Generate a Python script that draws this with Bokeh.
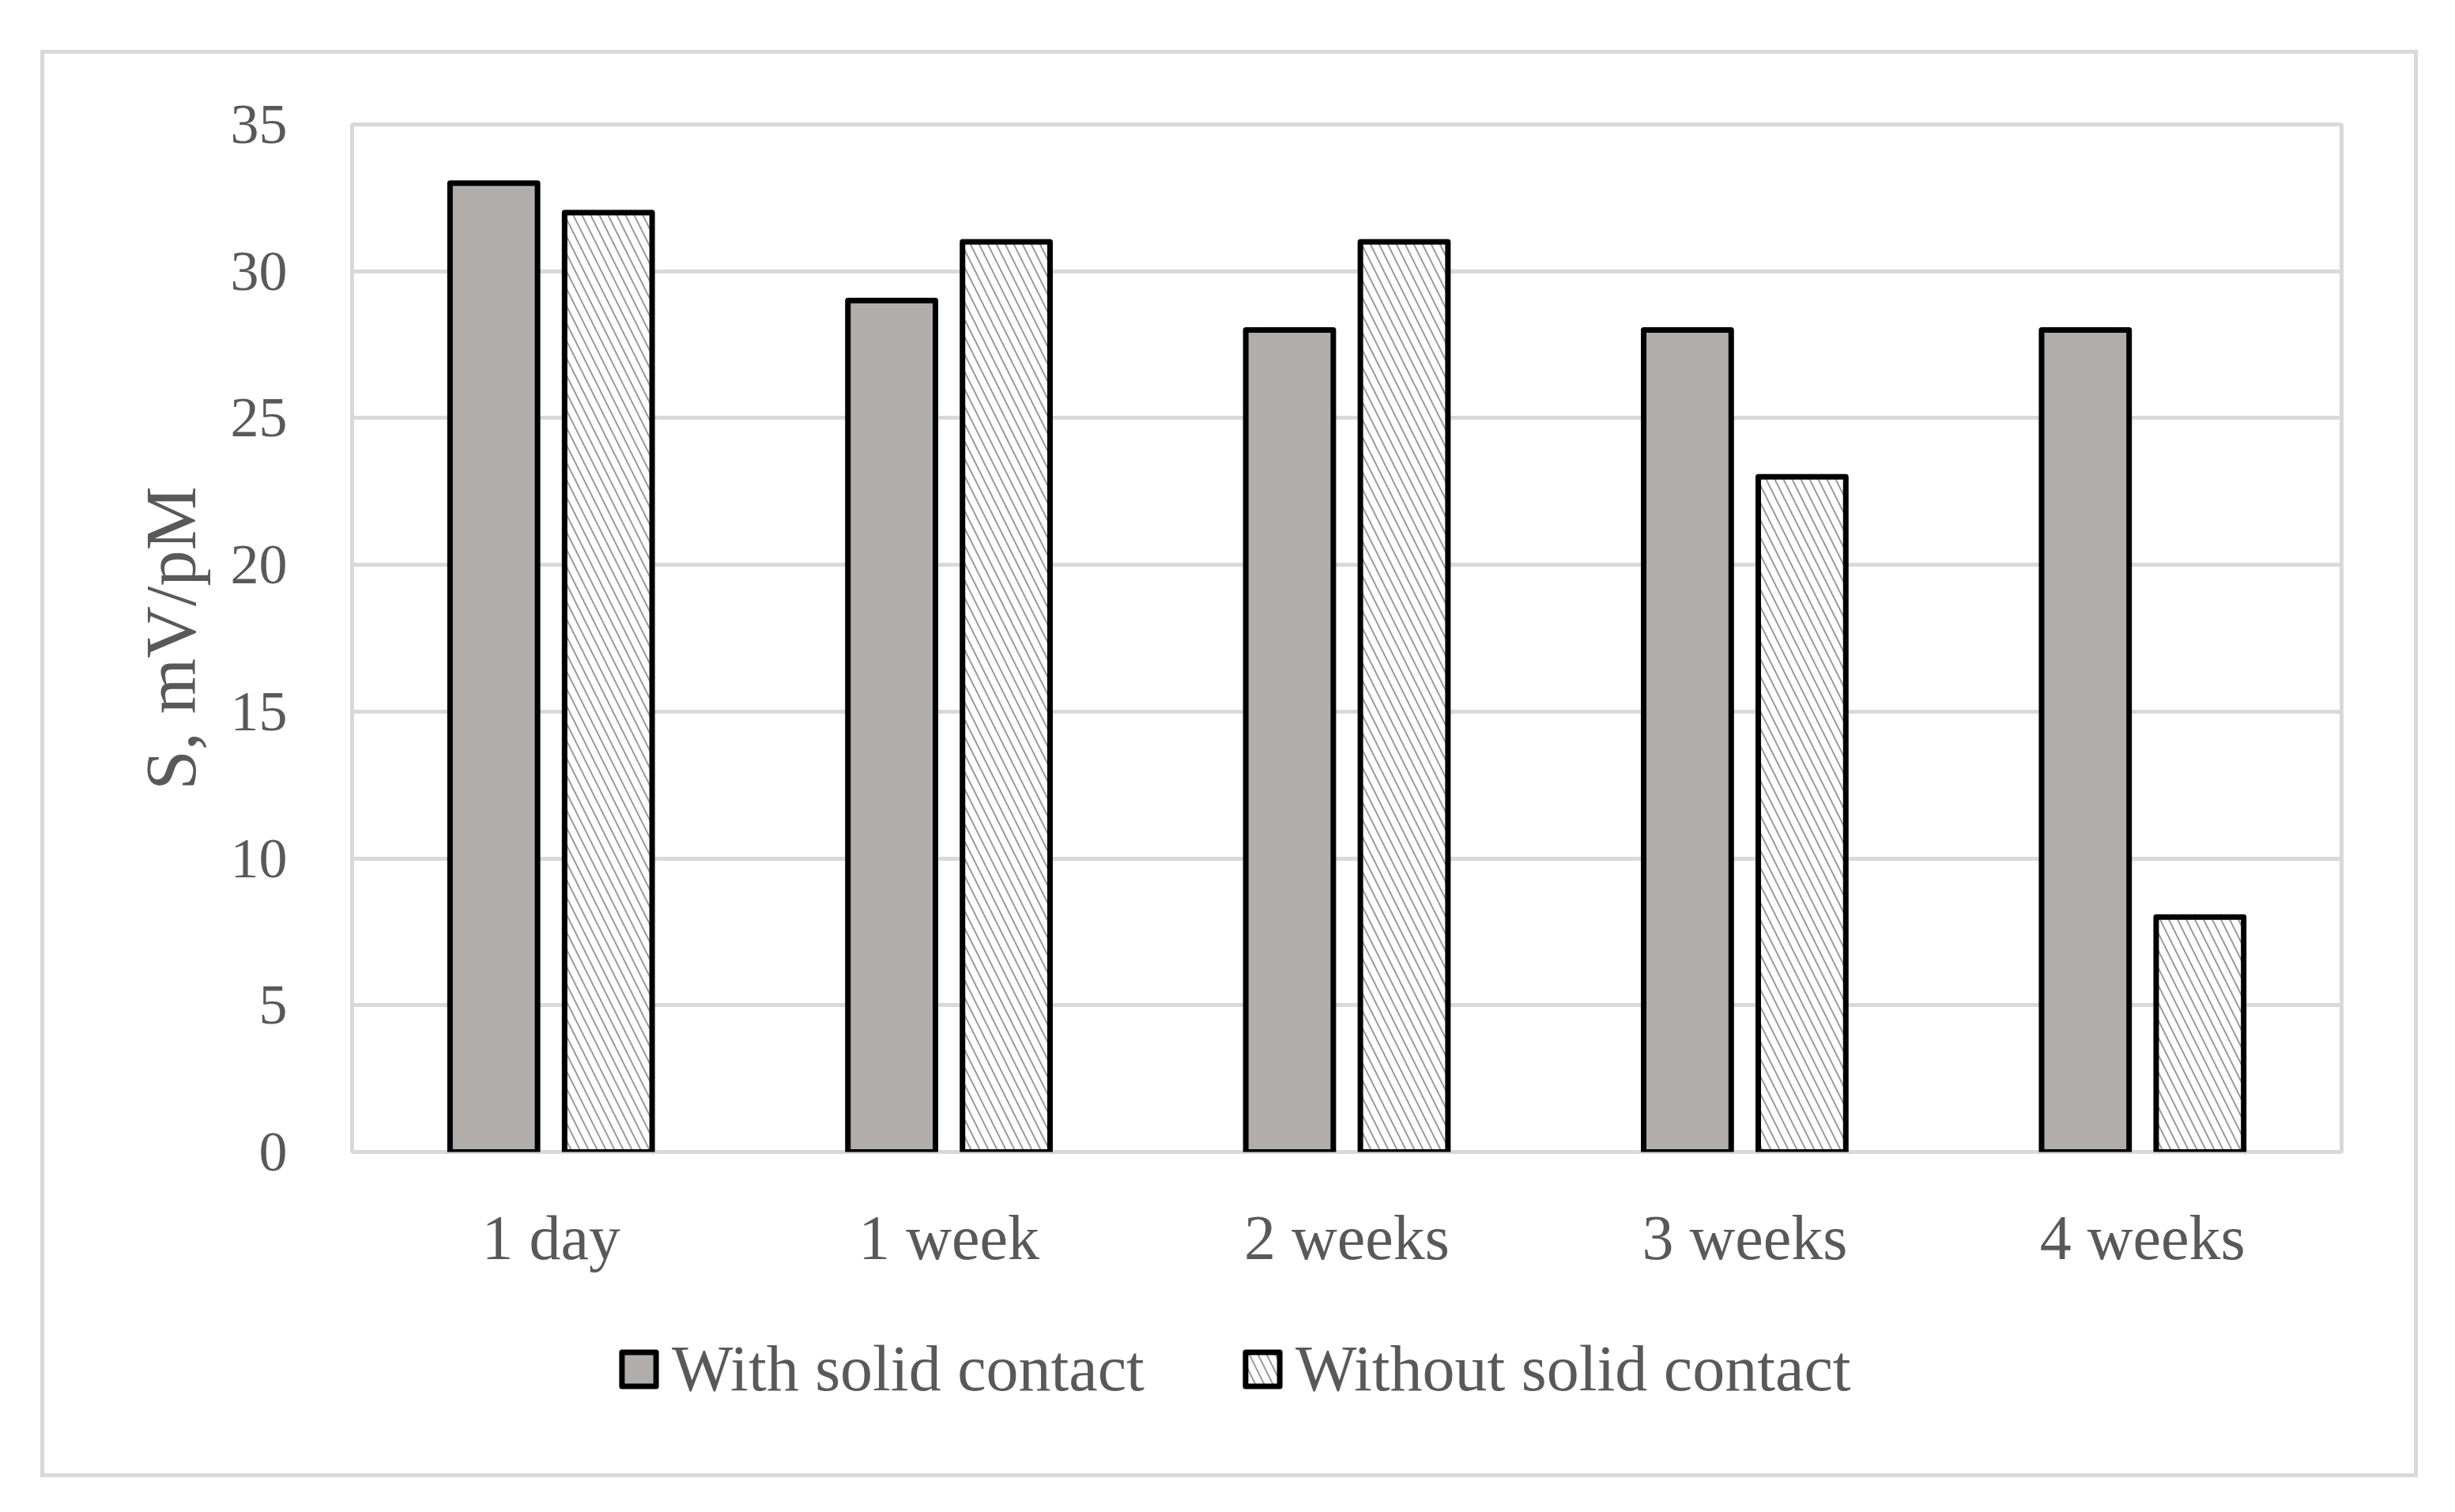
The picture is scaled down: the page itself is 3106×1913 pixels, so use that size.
from bokeh.plotting import figure
from bokeh.layouts import column
from bokeh.models import (FactorRange, Range1d, FixedTicker, Legend, LegendItem,
                          ColumnDataSource)
from bokeh.transform import dodge
from bokeh.embed import file_html
from bokeh.resources import INLINE

categories = ["1 day", "1 week", "2 weeks", "3 weeks", "4 weeks"]
with_solid = [33, 29, 28, 28, 28]
without_solid = [32, 31, 31, 23, 8]
series_names = ["With solid contact", "Without solid contact"]
y_ticks = [0, 5, 10, 15, 20, 25, 30, 35]
y_title = "S, mV/pM"

FONT = "Liberation Serif"
TXT = "#595959"
GRID = "#d9d9d9"
FILL_A = "#b1adaa"

W = 2998
H_MAIN, H_LEG = 1560, 236
BL, BR = 389, 92
src = ColumnDataSource(dict(cat=categories, a=with_solid, b=without_solid))

p = figure(width=W, height=H_MAIN, output_backend="svg", toolbar_location=None,
           x_range=FactorRange(factors=categories, range_padding=0),
           y_range=Range1d(0, 35),
           min_border_left=BL, min_border_right=BR,
           min_border_top=89, min_border_bottom=H_MAIN - 1389)

p.outline_line_color = GRID
p.outline_line_width = 5
p.background_fill_color = "white"
p.border_fill_color = "white"

p.xgrid.grid_line_color = None
p.ygrid.grid_line_color = GRID
p.ygrid.grid_line_width = 5
p.yaxis.ticker = FixedTicker(ticks=y_ticks)

for ax in (p.xaxis[0], p.yaxis[0]):
    ax.axis_line_color = None
    ax.major_tick_line_color = None
    ax.minor_tick_line_color = None
    ax.major_label_text_font = FONT
    ax.major_label_text_color = TXT

p.yaxis.major_label_text_font_size = "72px"
p.yaxis.major_label_standoff = 76
p.yaxis.axis_label = y_title
p.yaxis.axis_label_text_font = FONT
p.yaxis.axis_label_text_font_size = "91px"
p.yaxis.axis_label_text_font_style = "normal"
p.yaxis.axis_label_text_color = TXT
p.yaxis.axis_label_standoff = 22

p.xaxis.major_label_text_font_size = "80px"
p.xaxis.major_label_standoff = 58

bar_a = dict(fill_color=FILL_A, line_color="black", line_width=7, line_join="round")
bar_b = dict(fill_color="white", hatch_pattern="left_diagonal_line", hatch_color="#9a9a9a",
             hatch_weight=2, hatch_scale=22, line_color="black", line_width=7,
             line_join="round")

bw = 0.22
p.vbar(x=dodge("cat", -0.144, range=p.x_range), top="a", width=bw, source=src, **bar_a)
p.vbar(x=dodge("cat", 0.144, range=p.x_range), top="b", width=bw, source=src, **bar_b)

# legend strip below the chart (proxy renderers are hidden; only the legend shows)
q = figure(width=W, height=H_LEG, output_backend="svg", toolbar_location=None,
           x_axis_type=None, y_axis_type=None,
           x_range=Range1d(10, 20), y_range=Range1d(10, 20),
           min_border_left=BL, min_border_right=BR, min_border_top=0, min_border_bottom=0)
q.outline_line_color = None
q.background_fill_color = "white"
q.border_fill_color = "white"
la = q.vbar(x=[-1000], top=[-1000], bottom=-1001, width=1, **bar_a)
lb = q.vbar(x=[-1000], top=[-1000], bottom=-1001, width=1, **bar_b)
la.visible = False
lb.visible = False

legend = Legend(items=[LegendItem(label=series_names[0], renderers=[la]),
                       LegendItem(label=series_names[1], renderers=[lb])],
                orientation="horizontal", location=(336, 85), click_policy="none",
                glyph_width=54, glyph_height=54, label_standoff=15, spacing=122,
                padding=0, margin=0, border_line_color=None, background_fill_alpha=0,
                label_text_font=FONT, label_text_font_size="82px", label_text_color=TXT)
q.add_layout(legend, "center")

layout = column(p, q, spacing=0,
                styles={"border": "5px solid #d9d9d9", "margin-left": "51px",
                        "margin-top": "63px", "box-sizing": "content-box"})

open("out.html", "w").write(file_html(layout, INLINE))
